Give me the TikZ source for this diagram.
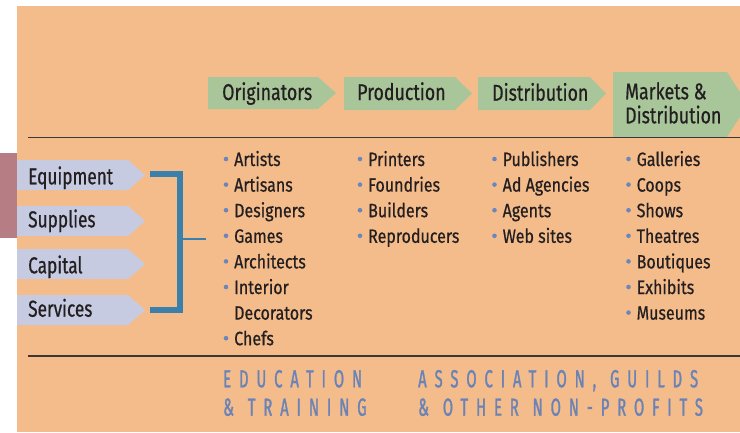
\documentclass[tikz,border=0pt]{standalone}
\usepackage{fontspec}
\usetikzlibrary{calc}
\setmainfont{Fira Sans}
\newfontfamily\itemfont{Fira Sans}[FakeStretch=0.83,FakeBold=0.6]
\newfontfamily\headfont{Fira Sans}[FakeStretch=0.78,FakeBold=0.6]
\newfontfamily\leftfont{Fira Sans}[FakeStretch=0.75,FakeBold=0.6]
\newfontfamily\spacedfont{Fira Sans}[FakeStretch=0.60,LetterSpace=32,FakeBold=1.2]
\definecolor{bgc}{HTML}{F5BC8B}
\definecolor{greenc}{HTML}{A9C69B}
\definecolor{lavc}{HTML}{C6CBE2}
\definecolor{mauvec}{HTML}{B67D85}
\definecolor{bluec}{HTML}{3A80AB}
\definecolor{bulletc}{HTML}{6B86BD}
\definecolor{lowc}{HTML}{6A83B7}
\definecolor{linec}{HTML}{3E3634}
\definecolor{txtc}{HTML}{231F20}
\tikzset{
  item/.style={anchor=base west, inner sep=0pt, text=txtc, font=\itemfont\fontsize{19.3}{20}\selectfont},
  headtext/.style={anchor=base west, inner sep=0pt, text=txtc, font=\headfont\fontsize{22.8}{24}\selectfont},
  lefttext/.style={anchor=base west, inner sep=0pt, text=txtc, font=\leftfont\fontsize{23}{24}\selectfont},
  lowtext/.style={anchor=base west, inner sep=0pt, text=lowc, font=\spacedfont\fontsize{24.7}{26}\selectfont},
  headbox/.style={fill=greenc},
  leftbox/.style={fill=lavc},
  rule/.style={draw=linec, line width=1.5pt},
  bracketline/.style={draw=bluec, line width=6pt, line join=miter},
  ticklines/.style={draw=bluec, line width=2.5pt},
  bulletdot/.style={fill=bulletc}
}
\begin{document}
\begin{tikzpicture}[x=1pt,y=-1pt]
\useasboundingbox (0,0) rectangle (740,432);
\fill[bgc] (17,6) rectangle (740,432);
\fill[mauvec] (0,153) rectangle (17,238);

% header arrows
\fill[headbox] (208,77) -- (318,77) -- (336,93) -- (318,109) -- (208,109) -- cycle;
\fill[headbox] (344,77) -- (455,77) -- (472,93.5) -- (455,110) -- (344,110) -- cycle;
\fill[headbox] (478,77) -- (590,77) -- (606,93.5) -- (590,110) -- (478,110) -- cycle;
\begin{scope}
\clip (0,0) rectangle (740,432);
\fill[headbox] (613,72) -- (727,72) -- (748,104.5) -- (727,137) -- (613,137) -- cycle;
\end{scope}
\node[headtext] (hOrig) at (222,100) {Originators};
\node[headtext] (hProd) at (357,100) {Production};
\node[headtext] (hDist) at (492,100.7) {Distribution};
\node[headtext] (hMark1) at (625,99.3) {Markets \&};
\node[headtext] (hMark2) at (625,123.3) {Distribution};

% rules
\draw[rule] (28,137.5) -- (740,137.5);
\draw[rule] (28,356) -- (740,356);

% left arrows
\foreach \n/\t/\yt/\yb/\bl in {eq/Equipment/160/190/184.3, su/Supplies/206/236/227.3, ca/Capital/249/279/273.3, se/Services/295/325/316.7}{
  \fill[leftbox] (17,\yt) -- (128,\yt) -- (145,{(\yt+\yb)/2}) -- (128,\yb) -- (17,\yb) -- cycle;
  \node[lefttext] (\n) at (28,\bl) {\t};
}

% bracket
\coordinate (bTop) at (150,174);
\coordinate (bTopC) at (180,174);
\coordinate (bBotC) at (180,310);
\coordinate (bBot) at (150,310);
\coordinate (tickA) at (183,239);
\coordinate (tickB) at (206,239);
\draw[bracketline] (bTop) -- (bTopC) -- (bBotC) -- (bBot);
\draw[ticklines] (tickA) -- (tickB);

% columns
\foreach \k/\t in {0/Artists,1/Artisans,2/Designers,3/Games,4/Architects,5/Interior,7/Chefs}{
  \node[item] (o\k) at (234,{166+25.6*\k}) {\t};
  \fill[bulletdot] ($(o\k.base west)+(-8,-7)$) circle[radius=2.3pt];
}
\node[item] (o6) at (234,{166+25.6*6}) {Decorators};
\foreach \k/\t in {0/Printers,1/Foundries,2/Builders,3/Reproducers}{
  \node[item] (p\k) at (368,{166+25.6*\k}) {\t};
  \fill[bulletdot] ($(p\k.base west)+(-8,-7)$) circle[radius=2.3pt];
}
\foreach \k/\t in {0/Publishers,1/Ad Agencies,2/Agents,3/Web sites}{
  \node[item] (d\k) at (502.5,{166+25.6*\k}) {\t};
  \fill[bulletdot] ($(d\k.base west)+(-8,-7)$) circle[radius=2.3pt];
}
\foreach \k/\t in {0/Galleries,1/Coops,2/Shows,3/Theatres,4/Boutiques,5/Exhibits,6/Museums}{
  \node[item] (m\k) at (636.5,{166+25.6*\k}) {\t};
  \fill[bulletdot] ($(m\k.base west)+(-8,-7)$) circle[radius=2.3pt];
}

% bottom
\node[lowtext] (edu1) at (223,387.3) {EDUCATION};
\node[lowtext] (edu2) at (223,415.7) {\&\hspace{2pt} TRAINING};
\node[lowtext] (ass1) at (418,387.3) {ASSOCIATION,\hspace{2pt} GUILDS};
\node[lowtext] (ass2) at (418,415.7) {\&\hspace{2pt} OTHER\hspace{2pt} NON-PROFITS};
\end{tikzpicture}
\end{document}
